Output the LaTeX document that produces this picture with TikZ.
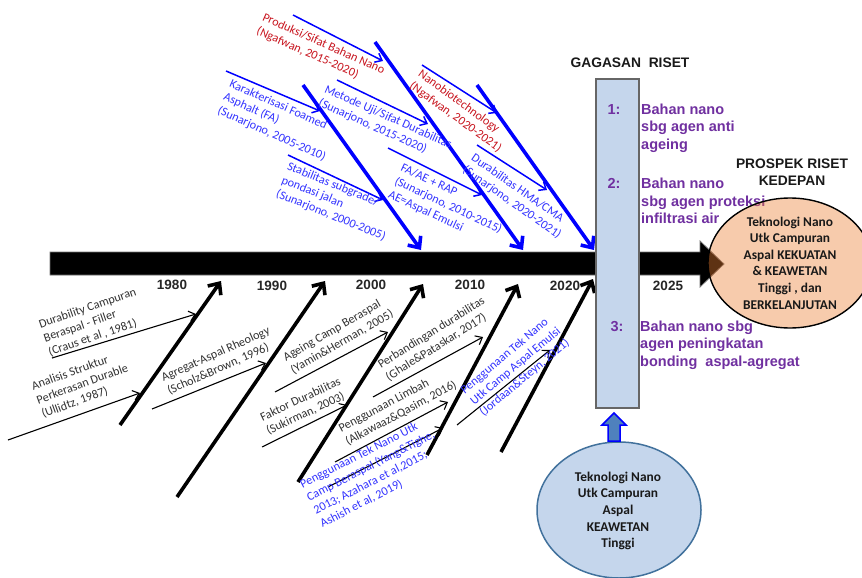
\documentclass[tikz,border=0pt]{standalone}
\usepackage{fontspec}
\setmainfont{Carlito}
\newfontfamily\arialf{Liberation Sans}
\usetikzlibrary{arrows.meta,shapes.geometric}
\definecolor{lblblue}{RGB}{51,51,255}
\definecolor{lblred}{RGB}{200,20,30}
\definecolor{lblgray}{RGB}{50,50,50}
\definecolor{pureblue}{RGB}{0,0,255}
\definecolor{purp}{RGB}{112,48,160}
\definecolor{lightbl}{RGB}{197,214,236}
\definecolor{ellbord}{RGB}{65,113,156}
\definecolor{offorange}{RGB}{237,125,49}
\definecolor{blockbl}{RGB}{79,129,189}
\newcommand\lblfont{\fontsize{12.2}{14.7}\selectfont}
\newcommand\purpfont{\arialf\bfseries\fontsize{14.5}{17.5}\selectfont}
\newcommand\yearfont{\arialf\bfseries\fontsize{13.5}{16}\selectfont}
\newcommand\ellfont{\bfseries\fontsize{13.4}{16.6}\selectfont}
\begin{document}
\begin{tikzpicture}[x=1pt,y=-1pt,
  thickblk/.style={draw=black, line width=3.6pt, -{Straight Barb[length=9pt,width=16pt]}},
  thinblk/.style={draw=black, line width=1.1pt, -{Straight Barb[length=6pt,width=10pt]}},
  thickblu/.style={draw=pureblue, line width=3.6pt, -{Straight Barb[length=9pt,width=16pt]}},
  thinblu/.style={draw=pureblue, line width=1.5pt, -{Straight Barb[length=6pt,width=10pt]}},
  lbl/.style={font=\lblfont, align=left, inner sep=0pt, anchor=west},
  grylbl/.style={lbl, text=lblgray},
  blulbl/.style={lbl, text=lblblue},
  redlbl/.style={lbl, text=lblred},
  year/.style={font=\yearfont, text=black!85, inner sep=0pt},
  purptext/.style={font=\purpfont, text=purp, align=left, inner sep=0pt, anchor=west},
  heading/.style={font=\arialf\bfseries\fontsize{13.8}{16.5}\selectfont, text=black!90, align=center, inner sep=0pt}
]
\clip (0,0) rectangle (862,578);
\fill[white] (0,0) rectangle (862,578);

% spine
\filldraw[fill=black, draw=black!55, line width=0.8pt]
  (50,252) -- (700,252) -- (700,241) -- (724,264) -- (700,287) -- (700,275) -- (50,275) -- cycle;

% coordinates for bone arrows (bottom, black thick)
\coordinate (K1s) at (120,425); \coordinate (K1e) at (221,281);
\coordinate (K2s) at (177,497); \coordinate (K2e) at (325,281);
\coordinate (K3s) at (298,482); \coordinate (K3e) at (423,284);
\coordinate (K4s) at (427,455); \coordinate (K4e) at (518,284);
\coordinate (K5s) at (501,452); \coordinate (K5e) at (593,279);
\foreach \i in {1,...,5} \draw[thickblk] (K\i s) -- (K\i e);

% thin black branches
\coordinate (k1s) at (52,358);  \coordinate (k1e) at (196,314);
\coordinate (k2s) at (8,440);   \coordinate (k2e) at (140,393);
\coordinate (k3s) at (152,409); \coordinate (k3e) at (266,363);
\coordinate (k4s) at (275,392); \coordinate (k4e) at (388,332);
\coordinate (k5s) at (262,447); \coordinate (k5e) at (347,405);
\coordinate (k6s) at (373,397); \coordinate (k6e) at (483,337);
\coordinate (k7s) at (335,462); \coordinate (k7e) at (448,402);
\coordinate (k8s) at (328,487); \coordinate (k8e) at (443,428);
\coordinate (k9s) at (457,425); \coordinate (k9e) at (550,350);
\foreach \i in {1,...,9} \draw[thinblk] (k\i s) -- (k\i e);

% top thick blue
\coordinate (As) at (303,85);  \coordinate (Ae) at (421,250);
\coordinate (Bs) at (375,42);  \coordinate (Be) at (523,250);
\coordinate (Cs) at (477,85);  \coordinate (Ce) at (594,250);
\foreach \i in {A,B,C} \draw[thickblu] (\i s) -- (\i e);

% top thin blue
\coordinate (as) at (293,15);  \coordinate (ae) at (383,61);
\coordinate (bs) at (226,71);  \coordinate (be) at (320,111);
\coordinate (cs) at (337,80);  \coordinate (ce) at (428,124);
\coordinate (ds) at (288,155); \coordinate (de) at (383,200);
\coordinate (es) at (388,148); \coordinate (ee) at (482,195);
\coordinate (fs) at (422,65);  \coordinate (fe) at (497,113);
\coordinate (gs) at (477,145); \coordinate (ge) at (547,190);
\foreach \i in {a,b,c,d,e,f,g} \draw[thinblu] (\i s) -- (\i e);

% top labels
\node[redlbl, rotate=-24] (t1) at (260,24) {Produksi/Sifat Bahan Nano\\(Ngafwan, 2015-2020)};
\node[blulbl, rotate=-24] (t2) at (224,97) {Karakterisasi Foamed\\Asphalt (FA)\\(Sunarjono, 2005-2010)};
\node[blulbl, rotate=-24] (t3) at (322,96) {Metode Uji/Sifat Durabilitas\\(Sunarjono, 2015-2020)};
\node[blulbl, rotate=-22] (t4) at (282,180) {Stabilitas subgrade/\\pondasi jalan\\(Sunarjono, 2000-2005)};
\node[blulbl, rotate=-25] (t5) at (395,181) {FA/AE + RAP\\(Sunarjono, 2010-2015)\\AE=Aspal Emulsi};
\node[redlbl, rotate=-36] (t6) at (415,79) {Nanobiotechnology\\(Ngafwan, 2020-2021)};
\node[blulbl, rotate=-35] (t7) at (468,163) {Durabilitas HMA/CMA\\(Sunarjono, 2020-2021)};

% bottom labels
\node[grylbl, rotate=19] (b1) at (44,339) {Durability Campuran\\Beraspal - Filler\\(Craus et al , 1981)};
\node[grylbl, rotate=20] (b2) at (37,401) {Analisis Struktur\\Perkerasan Durable\\(Ullidtz, 1987)};
\node[grylbl, rotate=24] (b3) at (165,385) {Agregat-Aspal Rheology\\(Scholz\&Brown, 1996)};
\node[grylbl, rotate=30] (b4) at (288,365) {Ageing Camp Beraspal\\(Yamin\&Herman, 2005)};
\node[grylbl, rotate=25] (b5) at (264,425) {Faktor Durabilitas\\(Sukirman, 2003)};
\node[grylbl, rotate=32] (b6) at (383,372) {Perbandingan durabilitas\\(Ghale\&Pataskar, 2017)};
\node[grylbl, rotate=28] (b7) at (343,436) {Penggunaan Limbah\\(Alkawaaz\&Qasim, 2016)};
\node[blulbl, rotate=27] (b8) at (311,505) {Penggunaan Tek Nano Utk\\Camp Beraspal (Yang\&Tighe,\\2013; Azahara et al,2015;\\Ashish et al, 2019)};
\node[blulbl, rotate=40] (b9) at (472,403) {Penggunaan Tek Nano\\Utk Camp Aspal Emulsi\\(Jordaan\&Steyn, 2021)};

% years
\node[year] (y1980) at (172,285) {1980};
\node[year] (y1990) at (272,286) {1990};
\node[year] (y2000) at (371,285) {2000};
\node[year] (y2010) at (470,285) {2010};
\node[year] (y2020) at (565,286) {2020};
\node[year] (y2025) at (668,286) {2025};

% research idea column
\node[draw=black!60, line width=1.2pt, fill=lightbl, minimum width=43pt, minimum height=329pt, inner sep=0pt] (gag) at (617.5,243.5) {};
\node[heading] (gagT) at (630,63) {GAGASAN\ \ RISET};
\node[font=\purpfont, text=purp, inner sep=0pt] (n1) at (614,110) {1:};
\node[font=\purpfont, text=purp, inner sep=0pt] (n2) at (614,183) {2:};
\node[font=\purpfont, text=purp, inner sep=0pt] (n3) at (617,327) {3:};
\node[purptext] (p1) at (641,128) {Bahan nano\\sbg agen anti\\ageing};
\node[purptext] (p2) at (641,201) {Bahan nano\\sbg agen proteksi\\infiltrasi air};
\node[purptext] (p3) at (640,345) {Bahan nano sbg\\agen peningkatan\\bonding\ \ aspal-agregat};

% prospek ellipse
\node[heading] (prospH) at (792,172) {PROSPEK RISET\\KEDEPAN};
\node[ellipse, draw=black, line width=1.4pt, fill=offorange, fill opacity=0.4, minimum width=164pt, minimum height=130pt, inner sep=0pt] (prosp) at (790,263) {};
\node[font=\ellfont, text=black!90, align=center, inner sep=0pt] (prospT) at (prosp.center) {Teknologi Nano\\Utk Campuran\\Aspal KEKUATAN\\\& KEAWETAN\\Tinggi , dan\\BERKELANJUTAN};

% lower ellipse
\node[ellipse, draw=ellbord, line width=1.5pt, fill=lightbl, minimum width=164pt, minimum height=136pt, inner sep=0pt] (base) at (619,510) {};
\node[font=\ellfont, text=black!90, align=center, inner sep=0pt] (baseT) at (618,511) {Teknologi Nano\\Utk Campuran\\Aspal\\KEAWETAN\\Tinggi};

% up block arrow
\filldraw[fill=blockbl, draw=pureblue, line width=1.5pt]
  (608,441) -- (608,425) -- (602,425) -- (614,413) -- (626,425) -- (620,425) -- (620,441) -- cycle;
\end{tikzpicture}
\end{document}
